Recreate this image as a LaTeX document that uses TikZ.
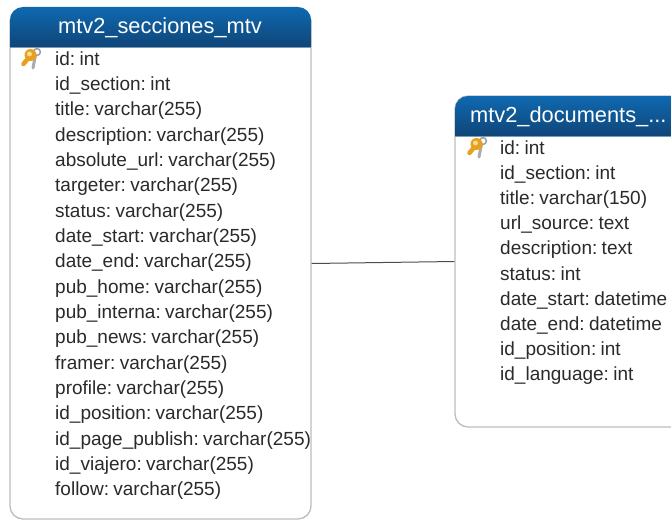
\documentclass[tikz,border=0pt]{standalone}
\usepackage{fontspec}
\setmainfont[WordSpace=0.5]{Liberation Sans}
\definecolor{hdtop}{HTML}{0F69B0}
\definecolor{hdbot}{HTML}{0F4578}
\definecolor{boxln}{HTML}{BDBDBD}
\definecolor{txt}{HTML}{2A2A2A}
\definecolor{keygold}{HTML}{E8A020}
\definecolor{keylight}{HTML}{FBE08A}
\tikzset{
  x=1pt,y=-1pt,
  tablebox/.style={draw=boxln,line width=1.3pt,fill=white,rounded corners=13pt,rectangle,inner sep=0pt},
  headband/.style={top color=hdtop,bottom color=hdbot,draw=none},
  headtext/.style={text=white,font=\fontsize{21.8}{24}\selectfont,inner sep=0pt},
  row/.style={text=txt,font=\fontsize{19}{20}\selectfont,inner sep=0pt,anchor=base west},
  link/.style={draw=black!70,line width=1pt},
}
\newcommand{\keyicon}[2]{%
  \begin{scope}[shift={(#1,#2)}]
    \draw[line width=3pt,draw=gray!65,line cap=round] (4.5,-4) -- (2,9);
    \draw[line width=1.5pt,draw=gray!75,fill=white] (6,-7) circle (3.4);
    \draw[line width=4.5pt,draw=keygold,line cap=round] (-1,-3) -- (-7.5,5);
    \fill[keygold] (-0.5,-4) circle (6);
    \fill[keylight] (-1.5,-5) circle (2.4);
  \end{scope}}
\begin{document}
\begin{tikzpicture}
\useasboundingbox (0,0) rectangle (671,519);
\clip (0,0) rectangle (671,519);
% left table
\node[tablebox,minimum width=301pt,minimum height=511pt] (a) at (160.5,263.5) {};
\begin{scope}
  \clip[rounded corners=13pt] (10,7) rectangle (311,80);
  \path[headband] (10,7) rectangle (311,47);
\end{scope}
\draw[boxln!60!hdtop,line width=.6pt] (10,47) -- (311,47);
\node[headtext,anchor=base] (at) at (160,34) {mtv2\_secciones\_mtv};
\keyicon{31}{59}
\foreach \i/\t in {0/id: int,1/id\_section: int,2/title: varchar(255),3/description: varchar(255),4/absolute\_url: varchar(255),5/targeter: varchar(255),6/status: varchar(255),7/date\_start: varchar(255),8/date\_end: varchar(255),9/pub\_home: varchar(255),10/pub\_interna: varchar(255),11/pub\_news: varchar(255),12/framer: varchar(255),13/profile: varchar(255),14/id\_position: varchar(255),15/id\_page\_publish: varchar(255),16/id\_viajero: varchar(255),17/follow: varchar(255)}
  \node[row] (ar\i) at (55,{65+25.35*\i}) {\t};
% right table
\node[tablebox,minimum width=235pt,minimum height=331pt] (b) at (572.5,261.5) {};
\begin{scope}
  \clip[rounded corners=13pt] (455,96) rectangle (690,170);
  \path[headband] (455,96) rectangle (690,136);
\end{scope}
\draw[boxln!60!hdtop,line width=.6pt] (455,136) -- (690,136);
\node[headtext,anchor=base west] (bt) at (470,122) {mtv2\_documents\_...};
\keyicon{477}{148}
\foreach \i/\t in {0/id: int,1/id\_section: int,2/title: varchar(150),3/url\_source: text,4/description: text,5/status: int,6/date\_start: datetime,7/date\_end: datetime,8/id\_position: int,9/id\_language: int}
  \node[row] (br\i) at (500,{154+25.2*\i}) {\t};
\draw[link] (a.east) -- (b.west);
\end{tikzpicture}
\end{document}
